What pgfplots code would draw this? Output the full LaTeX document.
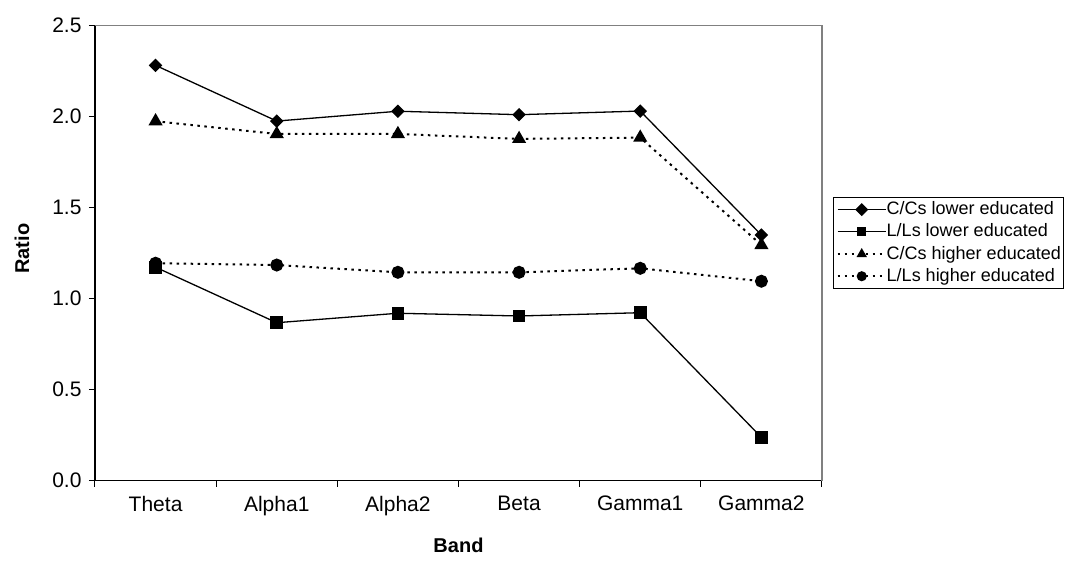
\documentclass[border=0pt]{standalone}
\usepackage{fontspec}
\setmainfont{Liberation Sans}
\usepackage{pgfplots}
\pgfplotsset{compat=1.18}
\begin{document}
\begin{tikzpicture}
\useasboundingbox (-95pt,-80.3pt) rectangle (971pt,480.7pt);
\begin{axis}[
  at={(0pt,0pt)}, anchor=south west,
  scale only axis, width=727pt, height=455pt,
  xmin=-0.5, xmax=5.5, ymin=0, ymax=2.5,
  axis lines=left, axis line style={-, black, line width=1.2pt},
  xtick={-0.5,0.5,...,5.5},
  x tick label as interval,
  xticklabels={Theta,Alpha1,Alpha2,Beta,Gamma1,Gamma2},
  ytick={0,0.5,...,2.5},
  tick align=outside, major tick length=6pt,
  tick style={black, line width=1pt},
  /pgf/number format/.cd, fixed, fixed zerofill, precision=1, assume math mode=true,
  /pgfplots/.cd,
  ticklabel style={font=\fontsize{21}{25}\selectfont},
  xticklabel style={yshift=-6pt},
  yticklabel style={xshift=-4pt},
  xlabel={\textbf{Band}}, ylabel={\textbf{Ratio}},
  every axis x label/.style={at={(axis description cs:0.5,-0.1413)}, anchor=center, font=\fontsize{20}{24}\selectfont},
  every axis y label/.style={at={(axis description cs:-0.1004,0.51)}, rotate=90, anchor=center, font=\fontsize{20}{24}\selectfont},
  clip=false,
  legend style={at={(axis description cs:1.0156,0.623)}, anchor=north west,
    draw=black, line width=0.8pt, font=\fontsize{18}{21}\selectfont,
    inner xsep=3pt, inner ysep=3pt, row sep=4.2pt,
    nodes={text height=14pt, text depth=4pt, inner sep=0pt},
    /tikz/every even column/.append style={column sep=3pt}},
  legend cell align=left,
  legend image code/.code={\draw[mark repeat=2,mark phase=2,#1,mark size=4pt] plot coordinates {(0pt,0pt) (24pt,0pt) (48pt,0pt)};},
]
\addplot[black, line width=1.3pt, mark=square*, mark size=4.1pt, mark options={rotate=45, solid}]
  coordinates {(0,2.282) (1,1.976) (2,2.030) (3,2.011) (4,2.031) (5,1.350)};
\addlegendentry{C/Cs lower educated}
\addplot[black, line width=1.3pt, mark=square*, mark size=5.7pt, mark options={solid}]
  coordinates {(0,1.173) (1,0.868) (2,0.920) (3,0.905) (4,0.923) (5,0.238)};
\addlegendentry{L/Ls lower educated}
\addplot[black, line width=2pt, dash pattern=on 2.5pt off 4.5pt, mark=triangle*, mark size=6.2pt, mark options={solid}]
  coordinates {(0,1.975) (1,1.905) (2,1.905) (3,1.878) (4,1.885) (5,1.295)};
\addlegendentry{C/Cs higher educated}
\addplot[black, line width=2pt, dash pattern=on 2.5pt off 4.5pt, mark=*, mark size=5.5pt, mark options={solid}]
  coordinates {(0,1.195) (1,1.185) (2,1.145) (3,1.145) (4,1.167) (5,1.096)};
\addlegendentry{L/Ls higher educated}
\draw[gray, line width=1.2pt] (rel axis cs:0,1) -- (rel axis cs:1,1) -- (rel axis cs:1,0);
\end{axis}
\end{tikzpicture}
\end{document}
